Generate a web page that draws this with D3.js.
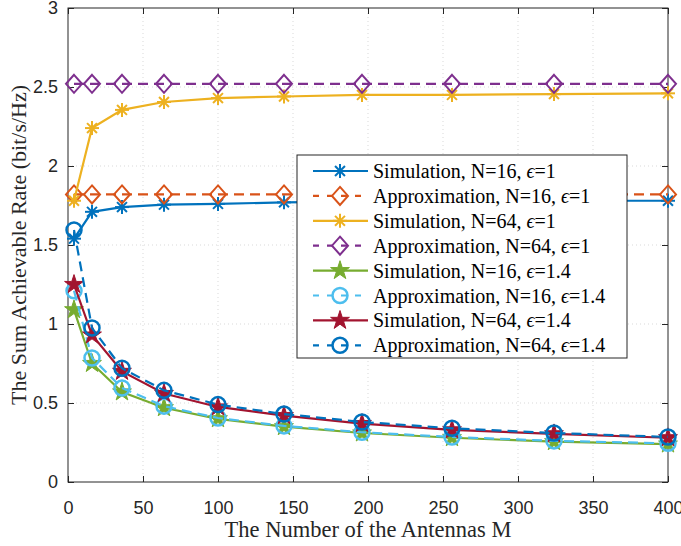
<!DOCTYPE html>
<html>
<head>
<meta charset="utf-8">
<title>Sum Achievable Rate</title>
<script src="https://cdn.jsdelivr.net/npm/d3@7"></script>
<style>
  body { margin: 0; background: #fff; }
</style>
</head>
<body>
<div id="viz"></div>
<script>
var width = 681, height = 546;
var margin = {left: 68, right: 13, top: 8, bottom: 64};

// data
var antennas = [4, 16, 36, 64, 100, 144, 196, 256, 324, 400];
var simN16e1   = [1.54, 1.71, 1.74, 1.755, 1.76, 1.77, 1.775, 1.775, 1.78, 1.78];
var apxN16e1   = [1.82, 1.82, 1.82, 1.82, 1.82, 1.82, 1.82, 1.82, 1.82, 1.82];
var simN64e1   = [1.78, 2.24, 2.355, 2.405, 2.43, 2.44, 2.45, 2.45, 2.455, 2.46];
var apxN64e1   = [2.52, 2.52, 2.52, 2.52, 2.52, 2.52, 2.52, 2.52, 2.52, 2.52];
var simN16e14  = [1.09, 0.75, 0.57, 0.47, 0.40, 0.35, 0.31, 0.28, 0.255, 0.24];
var apxN16e14  = [1.21, 0.785, 0.595, 0.48, 0.405, 0.355, 0.315, 0.285, 0.26, 0.245];
var simN64e14  = [1.25, 0.93, 0.70, 0.56, 0.475, 0.42, 0.37, 0.33, 0.305, 0.28];
var apxN64e14  = [1.595, 0.975, 0.72, 0.58, 0.49, 0.43, 0.38, 0.34, 0.31, 0.285];
var xTicks = [0, 50, 100, 150, 200, 250, 300, 350, 400];
var yTicks = [0, 0.5, 1, 1.5, 2, 2.5, 3];

var series = [
  {name: 'Simulation, N=16, ', eps: '1',   values: simN16e1,  color: '#0072BD', dash: null, marker: 'asterisk'},
  {name: 'Approximation, N=16, ', eps: '1', values: apxN16e1, color: '#D95319', dash: '10,6', marker: 'diamond'},
  {name: 'Simulation, N=64, ', eps: '1',   values: simN64e1,  color: '#EDB120', dash: null, marker: 'asterisk'},
  {name: 'Approximation, N=64, ', eps: '1', values: apxN64e1, color: '#7E2F8E', dash: '10,6', marker: 'diamond'},
  {name: 'Simulation, N=16, ', eps: '1.4',   values: simN16e14, color: '#77AC30', dash: null, marker: 'star'},
  {name: 'Approximation, N=16, ', eps: '1.4', values: apxN16e14, color: '#4DBEEE', dash: '10,6', marker: 'circle'},
  {name: 'Simulation, N=64, ', eps: '1.4',   values: simN64e14, color: '#A2142F', dash: null, marker: 'star'},
  {name: 'Approximation, N=64, ', eps: '1.4', values: apxN64e14, color: '#0072BD', dash: '10,6', marker: 'circle'}
];

var svg = d3.select('#viz').append('svg')
  .attr('width', width).attr('height', height);

var x = d3.scaleLinear().domain([0, 400]).range([margin.left, width - margin.right]);
var y = d3.scaleLinear().domain([0, 3]).range([height - margin.bottom, margin.top]);

// grid
var grid = svg.append('g').attr('stroke', '#d9d9d9').attr('stroke-width', 1).attr('stroke-dasharray', '1,3');
grid.selectAll('.gx').data(xTicks.slice(1, -1)).join('line')
  .attr('x1', d => x(d)).attr('x2', d => x(d))
  .attr('y1', y(0)).attr('y2', y(3));
grid.selectAll('.gy').data(yTicks.slice(1, -1)).join('line')
  .attr('x1', x(0)).attr('x2', x(400))
  .attr('y1', d => y(d)).attr('y2', d => y(d));

// axes (ticks inward)
var tickFont = '"Liberation Sans", Arial, sans-serif';
svg.append('g').attr('transform', `translate(0,${y(0)})`)
  .call(d3.axisBottom(x).tickValues(xTicks).tickSizeInner(-6).tickSizeOuter(0).tickPadding(19))
  .call(g => g.select('.domain').remove());
svg.append('g').attr('transform', `translate(${x(0)},0)`)
  .call(d3.axisLeft(y).tickValues(yTicks).tickFormat(d3.format('')).tickSizeInner(-6).tickSizeOuter(0).tickPadding(10))
  .call(g => g.select('.domain').remove());
svg.append('g').attr('transform', `translate(0,${y(3)})`)
  .call(d3.axisTop(x).tickValues(xTicks).tickSizeInner(-6).tickSizeOuter(0).tickFormat(''))
  .call(g => g.select('.domain').remove());
svg.append('g').attr('transform', `translate(${x(400)},0)`)
  .call(d3.axisRight(y).tickValues(yTicks).tickSizeInner(-6).tickSizeOuter(0).tickFormat(''))
  .call(g => g.select('.domain').remove());
svg.selectAll('.tick line').attr('stroke', '#262626');
svg.selectAll('.tick text').attr('font-family', tickFont).attr('font-size', 18).attr('fill', '#262626');

svg.append('rect')
  .attr('x', x(0)).attr('y', y(3))
  .attr('width', x(400) - x(0)).attr('height', y(0) - y(3))
  .attr('fill', 'none').attr('stroke', '#262626').attr('stroke-width', 1);

// markers
function drawMarker(g, type, color, cx, cy) {
  if (type === 'asterisk') {
    var r = 7;
    [0, 45, 90, 135].forEach(a => {
      var t = a * Math.PI / 180;
      g.append('line')
        .attr('x1', cx - r * Math.cos(t)).attr('y1', cy - r * Math.sin(t))
        .attr('x2', cx + r * Math.cos(t)).attr('y2', cy + r * Math.sin(t))
        .attr('stroke', color).attr('stroke-width', 2);
    });
  } else if (type === 'diamond') {
    g.append('path')
      .attr('d', `M${cx},${cy - 9}L${cx + 8},${cy}L${cx},${cy + 9}L${cx - 8},${cy}Z`)
      .attr('fill', 'none').attr('stroke', color).attr('stroke-width', 2);
  } else if (type === 'circle') {
    g.append('circle').attr('cx', cx).attr('cy', cy).attr('r', 7.5)
      .attr('fill', 'none').attr('stroke', color).attr('stroke-width', 2.5);
  } else if (type === 'star') {
    g.append('path')
      .attr('d', d3.symbol().type(d3.symbolStar).size(110)())
      .attr('transform', `translate(${cx},${cy})`)
      .attr('fill', color).attr('stroke', color).attr('stroke-width', 1);
  }
}

var line = d3.line().x((d, i) => x(antennas[i])).y(d => y(d));

var plot = svg.append('g');
series.forEach(s => {
  plot.append('path')
    .attr('d', line(s.values))
    .attr('fill', 'none')
    .attr('stroke', s.color)
    .attr('stroke-width', 2.2)
    .attr('stroke-dasharray', s.dash);
  var mg = plot.append('g');
  s.values.forEach((v, i) => drawMarker(mg, s.marker, s.color, x(antennas[i]), y(v)));
});

// legend
var serif = '"Liberation Serif", "Times New Roman", serif';
var lg = svg.append('g').attr('transform', 'translate(297,155)');
lg.append('rect').attr('width', 330).attr('height', 203)
  .attr('fill', '#fff').attr('stroke', '#262626').attr('stroke-width', 1);
series.forEach((s, i) => {
  var cy = 16 + i * 24.9;
  lg.append('line').attr('x1', 16).attr('x2', 71).attr('y1', cy).attr('y2', cy)
    .attr('stroke', s.color).attr('stroke-width', 2.2).attr('stroke-dasharray', s.dash ? '6,8' : null);
  drawMarker(lg, s.marker, s.color, 43, cy);
  var t = lg.append('text').attr('x', 76).attr('y', cy + 7)
    .attr('font-family', serif).attr('font-size', 20).attr('fill', '#000');
  t.append('tspan').text(s.name);
  t.append('tspan').attr('font-style', 'italic').text('ϵ');
  t.append('tspan').text('=' + s.eps);
});

// axis labels
svg.append('text')
  .attr('x', (x(0) + x(400)) / 2).attr('y', 537)
  .attr('text-anchor', 'middle')
  .attr('font-family', serif).attr('font-size', 22.5).attr('fill', '#262626')
  .text('The Number of the Antennas M');
svg.append('text')
  .attr('transform', `translate(26,${(y(0) + y(3)) / 2}) rotate(-90)`)
  .attr('text-anchor', 'middle')
  .attr('font-family', serif).attr('font-size', 22).attr('fill', '#262626')
  .text('The Sum Achievable Rate (bit/s/Hz)');
</script>
</body>
</html>
